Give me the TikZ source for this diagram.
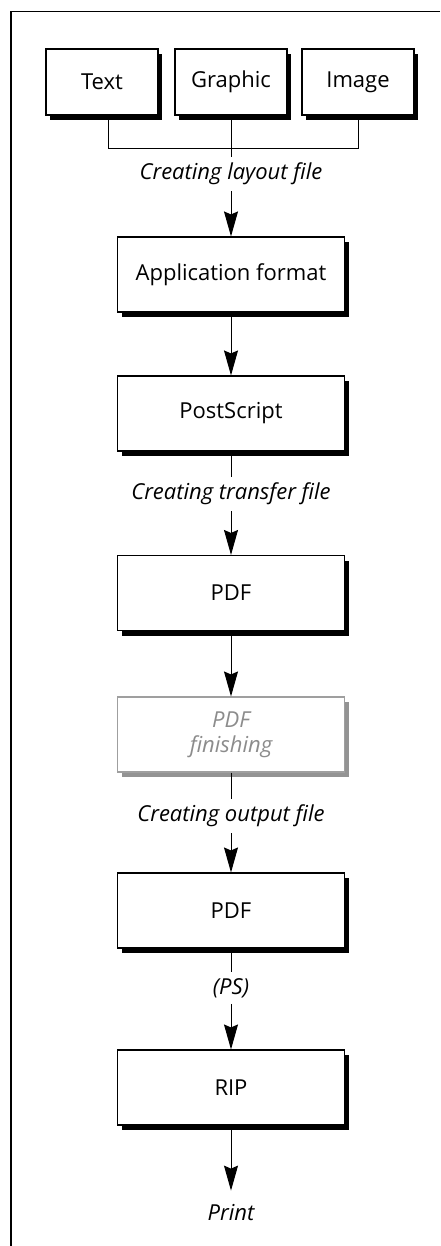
\documentclass[tikz,border=0pt]{standalone}
\usepackage{fontspec}
\setmainfont{Open Sans}
\usetikzlibrary{arrows.meta,shadows}

\newcommand{\flowfont}{\fontsize{22}{25}\selectfont}

\tikzset{
	stage/.style=
	{
		draw, fill=white, line width=1.1pt, font=\flowfont,
		minimum width=227pt, minimum height=75pt, align=center,
		drop shadow={shadow xshift=4pt, shadow yshift=-5pt, fill=#1, opacity=1}
	},
	stage/.default=black,
	source/.style={stage, minimum width=112pt, minimum height=66pt},
	faded/.style={stage=gray!85, draw=gray!75, text=gray!90, font=\flowfont\itshape},
	note/.style={font=\flowfont\itshape, inner sep=6pt},
	flow/.style={-{Stealth[length=25pt,width=14pt,inset=3pt]}, line width=1pt}
}

\begin{document}
\begin{tikzpicture}[x=1pt,y=-1pt]
\useasboundingbox (0,0) rectangle (440,1246);

% frame
\draw[line width=1.5pt] (440,11.5) -- (11,11.5) -- (11,1246);

% sources
\node[source] (text) at (102,82) {Text};
\node[source] (graphic) at (231,82) {Graphic};
\node[source] (image) at (358,82) {Image};

% stages
\node[stage] (app) at (231,274.5) {Application format};
\node[stage] (ps) at (231,413.5) {PostScript};
\node[stage] (pdfa) at (231,593) {PDF};
\node[faded] (finish) at (231,734.5) {PDF\\finishing};
\node[stage] (pdfb) at (231,910.5) {PDF};
\node[stage] (rip) at (231,1087.5) {RIP};

% step labels
\node[note] (layout) at (231,174) {Creating layout file};
\node[note] (transfer) at (231,494) {Creating transfer file};
\node[note] (output) at (231,816) {Creating output file};
\node[note] (psout) at (231,988) {(PS)};
\node[note] (print) at (231,1213) {Print};

\draw[line width=1pt] ([xshift=6pt]text.south) -- ++(0,33) -| (image.south);
\draw[line width=1pt] (graphic.south) -- (layout.north);
\draw[flow] (layout.south) -- (app.north);
\draw[flow] (app.south) -- (ps.north);
\draw[line width=1pt] (ps.south) -- (transfer.north);
\draw[flow] (transfer.south) -- (pdfa.north);
\draw[flow] (pdfa.south) -- (finish.north);
\draw[line width=1pt] (finish.south) -- (output.north);
\draw[flow] (output.south) -- (pdfb.north);
\draw[line width=1pt] (pdfb.south) -- (psout.north);
\draw[flow] (psout.south) -- (rip.north);
\draw[flow] (rip.south) -- ([yshift=8pt]print.north);
\end{tikzpicture}
\end{document}
